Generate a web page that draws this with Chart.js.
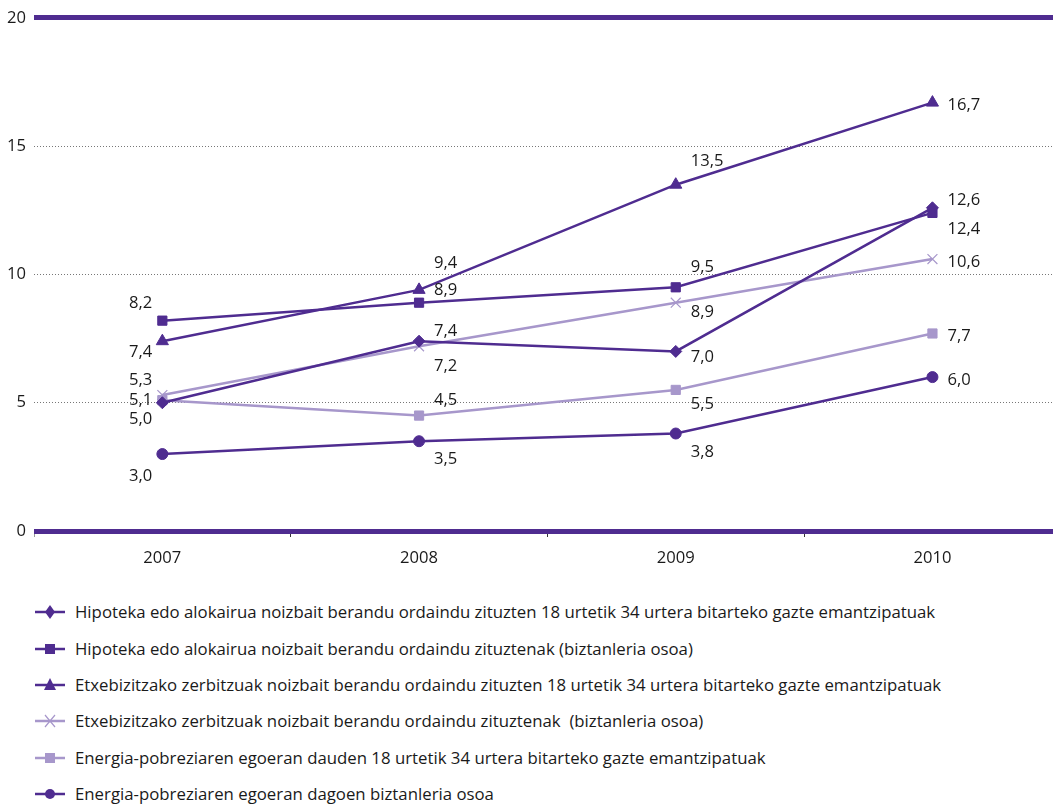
<!DOCTYPE html>
<html>
<head>
<meta charset="utf-8">
<script src="https://cdn.jsdelivr.net/npm/chart.js@4/dist/chart.umd.min.js"></script>
<style>
  html, body { margin: 0; padding: 0; background: #fff; overflow: hidden; width: 1053px; height: 806px; }
  #wrap { position: absolute; left: 0; top: 0; width: 1069px; height: 581px; }
  #legend { position: absolute; left: 0; top: 594px; font-family: "Open Sans", sans-serif; font-size: 16.8px; color: #1a1a1a; }
  .row { position: relative; height: 36.4px; white-space: pre; width: 1053px; }
  .row svg { position: absolute; left: 34px; top: 50%; margin-top: -9px; }
  .row span { position: absolute; left: 75px; top: 50%; transform: translateY(-53%); }
</style>
</head>
<body>
<div id="wrap"><canvas id="c" width="1069" height="581"></canvas></div>
<div id="legend"></div>
<script>
// ---- data ----
const years = ['2007', '2008', '2009', '2010'];
const seriesNames = [
  'Hipoteka edo alokairua noizbait berandu ordaindu zituzten 18 urtetik 34 urtera bitarteko gazte emantzipatuak',
  'Hipoteka edo alokairua noizbait berandu ordaindu zituztenak (biztanleria osoa)',
  'Etxebizitzako zerbitzuak noizbait berandu ordaindu zituzten 18 urtetik 34 urtera bitarteko gazte emantzipatuak',
  'Etxebizitzako zerbitzuak noizbait berandu ordaindu zituztenak  (biztanleria osoa)',
  'Energia-pobreziaren egoeran dauden 18 urtetik 34 urtera bitarteko gazte emantzipatuak',
  'Energia-pobreziaren egoeran dagoen biztanleria osoa'
];
const hipotekaGazteak = [5.0, 7.4, 7.0, 12.6];
const hipotekaOsoa = [8.2, 8.9, 9.5, 12.4];
const zerbitzuakGazteak = [7.4, 9.4, 13.5, 16.7];
const zerbitzuakOsoa = [5.3, 7.2, 8.9, 10.6];
const energiaGazteak = [5.1, 4.5, 5.5, 7.7];
const energiaOsoa = [3.0, 3.5, 3.8, 6.0];
const yTicks = [0, 5, 10, 15, 20];

// ---- styles ----
const DARK = '#4f2c90';
const LIGHT = '#a797cb';
const seriesValues = [hipotekaGazteak, hipotekaOsoa, zerbitzuakGazteak, zerbitzuakOsoa, energiaGazteak, energiaOsoa];
const seriesColors = [DARK, DARK, DARK, LIGHT, LIGHT, DARK];
const seriesPoint = ['rectRot', 'rect', 'triangle', 'crossRot', 'rect', 'circle'];
const seriesRadius = [6, 6.5, 7, 7, 6.5, 5.5];
// vertical label offsets (px) per series / per year
const labelDy = [
  [17, -10, 6, -8],
  [-17, -12, -20, 16],
  [11, -27, -23, 3],
  [-15, 20, 10, 3],
  [0, -15, 14, 3],
  [22, 18, 19, 3]
];

const FONT = '"Open Sans", sans-serif';
const FSIZE = 16.6;

const datasets = seriesValues.map((vals, i) => ({
  label: seriesNames[i],
  data: vals,
  borderColor: seriesColors[i],
  backgroundColor: seriesColors[i],
  borderWidth: 2.5,
  pointStyle: seriesPoint[i],
  pointRadius: seriesRadius[i],
  pointHoverRadius: seriesRadius[i],
  pointBorderWidth: seriesPoint[i] === 'crossRot' ? 1.2 : 1,
  pointBackgroundColor: seriesColors[i],
  pointBorderColor: seriesColors[i],
  tension: 0
}));

const valueLabels = {
  id: 'valueLabels',
  afterDatasetsDraw(chart) {
    const ctx = chart.ctx;
    ctx.save();
    ctx.font = FSIZE + 'px ' + FONT;
    ctx.fillStyle = '#1a1a1a';
    ctx.textBaseline = 'middle';
    chart.data.datasets.forEach((ds, i) => {
      const meta = chart.getDatasetMeta(i);
      meta.data.forEach((pt, j) => {
        const txt = ds.data[j].toFixed(1).replace('.', ',');
        if (j === 0) { ctx.textAlign = 'right'; ctx.fillText(txt, pt.x - 10, pt.y + labelDy[i][j]); }
        else { ctx.textAlign = 'left'; ctx.fillText(txt, pt.x + 15, pt.y + labelDy[i][j]); }
      });
    });
    ctx.restore();
  }
};

const isEdge = v => v === yTicks[0] || v === yTicks[yTicks.length - 1];

new Chart(document.getElementById('c'), {
  type: 'line',
  data: { labels: years, datasets },
  options: {
    responsive: false,
    animation: false,
    events: [],
    layout: { padding: { top: 16, right: 0, left: 0, bottom: 0 } },
    plugins: { legend: { display: false }, tooltip: { enabled: false } },
    scales: {
      x: {
        type: 'category',
        offset: true,
        grid: {
          offset: true,
          drawOnChartArea: false,
          drawTicks: true,
          tickLength: 6,
          tickWidth: 1,
          tickColor: c => c.index === 0 ? '#999' : '#333',
          color: c => c.index === 0 ? '#999' : '#333'
        },
        border: { display: false },
        ticks: { font: { family: FONT, size: FSIZE }, color: '#1a1a1a', padding: 11, maxRotation: 0 },
        afterFit(s) { s.height = 50; s.paddingLeft = 0; s.paddingRight = 0; }
      },
      y: {
        min: 0, max: 20,
        afterBuildTicks(s) { s.ticks = yTicks.map(v => ({ value: v })); },
        grid: {
          drawTicks: false,
          color: c => (c.tick && isEdge(c.tick.value)) ? DARK : '#777',
          lineWidth: c => (c.tick && isEdge(c.tick.value)) ? 5 : 1
        },
        border: {
          display: false,
          dash: c => (c.tick && isEdge(c.tick.value)) ? [] : [1, 2]
        },
        ticks: { font: { family: FONT, size: FSIZE }, color: '#1a1a1a', padding: 8 },
        afterFit(s) { s.width = 34; }
      }
    }
  },
  plugins: [valueLabels]
});

// ---- legend (HTML) ----
function iconSvg(i) {
  const c = seriesColors[i];
  let m = '';
  const cx = 16, cy = 9;
  switch (seriesPoint[i]) {
    case 'rectRot': m = `<polygon points="${cx},${cy-7} ${cx+5},${cy} ${cx},${cy+7} ${cx-5},${cy}" fill="${c}"/>`; break;
    case 'rect': m = `<rect x="${cx-5}" y="${cy-5}" width="10" height="10" fill="${c}"/>`; break;
    case 'triangle': m = `<polygon points="${cx},${cy-7} ${cx+6},${cy+5} ${cx-6},${cy+5}" fill="${c}"/>`; break;
    case 'crossRot': m = `<path d="M${cx-5} ${cy-6} L${cx+5} ${cy+6} M${cx+5} ${cy-6} L${cx-5} ${cy+6}" stroke="${c}" stroke-width="1.2"/>`; break;
    case 'circle': m = `<circle cx="${cx}" cy="${cy}" r="5" fill="${c}"/>`; break;
  }
  return `<svg width="32" height="18" viewBox="0 0 32 18"><line x1="1" y1="${cy}" x2="31" y2="${cy}" stroke="${c}" stroke-width="2.5"/>${m}</svg>`;
}
const leg = document.getElementById('legend');
seriesNames.forEach((n, i) => {
  const row = document.createElement('div');
  row.className = 'row';
  row.innerHTML = iconSvg(i) + '<span></span>';
  row.querySelector('span').textContent = n;
  leg.appendChild(row);
});
</script>
</body>
</html>
